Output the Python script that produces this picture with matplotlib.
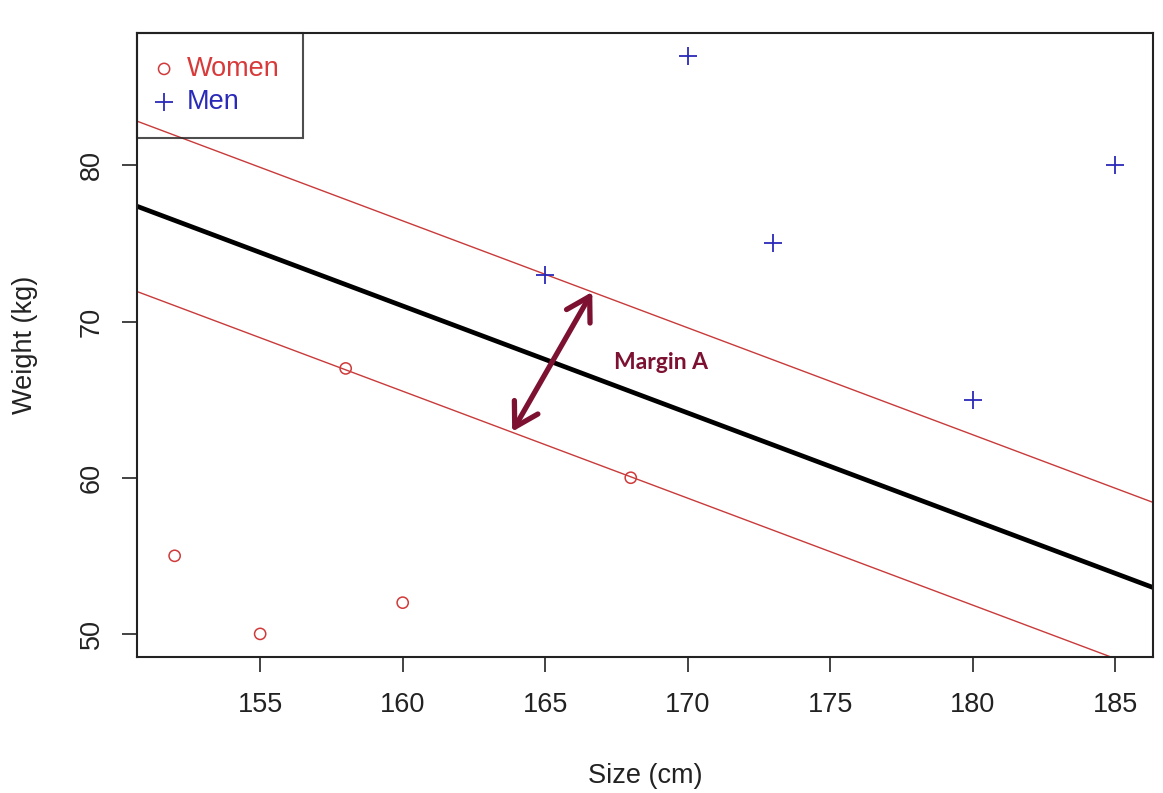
import matplotlib.pyplot as plt
from matplotlib.patches import FancyArrowPatch

# data
women_size = [152, 155, 158, 160, 168]
women_weight = [55, 50, 67, 52, 60]
men_size = [165, 170, 173, 180, 185]
men_weight = [73, 87, 75, 65, 80]

slope = -0.685
intercept_lower = 175.14
intercept_mid = 180.6
intercept_upper = 186.05

arrow_start = (163.84, 62.95)
arrow_end = (166.65, 71.9)
label_pos = (169.07, 67.4)

plt.rcParams['font.family'] = ['Liberation Sans', 'DejaVu Sans']
fs = 19.5
txt = '#222222'

fig = plt.figure(figsize=(11.63, 7.93), dpi=100)
ax = fig.add_axes([0.1178, 0.1715, 0.8736, 0.7869])

ax.scatter(women_size, women_weight, marker='o', s=65, facecolors='none',
           edgecolors='#d03a3a', linewidths=1.1, label='Women', zorder=3)
ax.scatter(men_size, men_weight, marker='+', s=180, color='#2a2ab8',
           linewidths=1.3, label='Men', zorder=3)

ax.axline((0, intercept_lower), slope=slope, color='#c93a3a', lw=1.0)
ax.axline((0, intercept_upper), slope=slope, color='#c93a3a', lw=1.0)
ax.axline((0, intercept_mid), slope=slope, color='black', lw=3.4)

arrow = FancyArrowPatch(arrow_start, arrow_end, arrowstyle='<->,head_length=11,head_width=6.5',
                        color='#7c1131', lw=3.8, mutation_scale=1.5,
                        shrinkA=0, shrinkB=0, zorder=4)
ax.add_patch(arrow)
ax.text(label_pos[0], label_pos[1], 'Margin A', color='#7c1131', fontsize=16.5,
        fontweight='bold', family=['Lato', 'DejaVu Sans'], ha='center', va='center')

ax.set_xlim(150.68, 186.32)
ax.set_ylim(48.52, 88.48)
ax.set_xticks([155, 160, 165, 170, 175, 180, 185])
ax.set_yticks([50, 60, 70, 80])
ax.tick_params(axis='both', length=11, width=1.2, labelsize=fs, colors=txt)
ax.tick_params(axis='x', pad=14)
ax.tick_params(axis='y', pad=12)
plt.setp(ax.get_yticklabels(), rotation=90, va='center')
for s in ax.spines.values():
    s.set_linewidth(1.5)
    s.set_color(txt)

ax.set_xlabel('Size (cm)', fontsize=fs, color=txt, va='center')
ax.set_ylabel('Weight (kg)', fontsize=fs, color=txt, va='center')
ax.xaxis.set_label_coords(0.5, -0.1907)
ax.yaxis.set_label_coords(-0.11, 0.5)

leg = ax.legend(loc='upper left', borderaxespad=0, fancybox=False, fontsize=fs,
                labelcolor=['#d83a3a', '#2a2ab8'], handletextpad=0.7, borderpad=0.85,
                labelspacing=0.25, handlelength=0.3, facecolor='none', framealpha=None)
leg.get_frame().set_edgecolor(txt)
leg.get_frame().set_linewidth(1.5)

fig.savefig('out.png', dpi=100)
